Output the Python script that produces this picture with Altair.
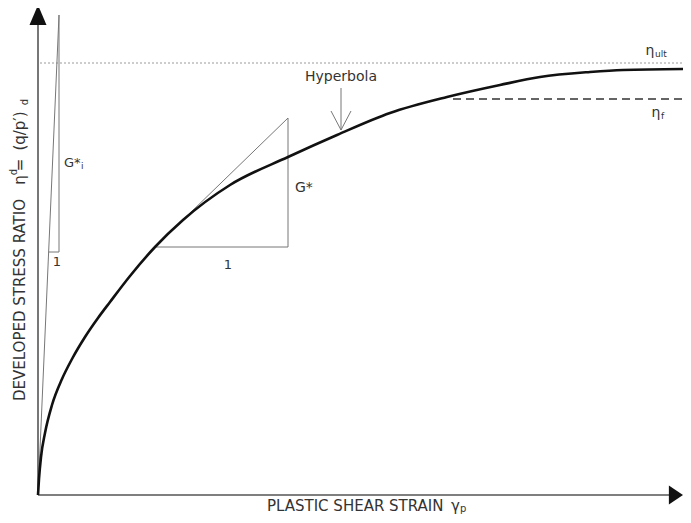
import altair as alt
import pandas as pd

# ---- data (schematic units: strain along x, stress ratio along y) ----
strain = [0, 1, 3, 7, 14, 24, 34, 47, 60, 72, 92, 117, 145, 192, 250, 299, 352, 409, 462, 502, 552, 585, 652]
ratio = [0, 16, 38, 62, 90, 116, 136, 158, 177, 193, 219, 248, 275, 310, 338, 360, 382, 398, 410, 418, 423, 425, 426]

eta_ult = 432          # ultimate stress ratio (asymptote)
eta_f = 396            # failure stress ratio
eta_f_start = 415

# initial tangent triangle (G*i)
gi_top = [21, 480]
gi_base_y = 243
gi_base_x0 = 10.6
# tangent triangle (G*)
g_x0, g_y0 = 117, 248
g_x1, g_y1 = 250, 377
# Hyperbola pointer
hyp_x, hyp_y_top, hyp_y_tip = 303, 407, 365

XD = [-30, 645]
YD = [-20, 487]
W, H = 675, 507


def X(f="x", **kw):
    return alt.X(f, type="quantitative", scale=alt.Scale(domain=XD, nice=False, zero=False), axis=None, **kw)


def Y(f="y", **kw):
    return alt.Y(f, type="quantitative", scale=alt.Scale(domain=YD, nice=False, zero=False), axis=None, **kw)


def segs(rows):
    return pd.DataFrame(rows, columns=["x", "y", "x2", "y2"])


def rule_layer(rows, color, width, dash=None):
    kw = dict(color=color, strokeWidth=width)
    if dash:
        kw["strokeDash"] = dash
    return alt.Chart(segs(rows)).mark_rule(**kw).encode(
        x=X(), y=Y(), x2="x2:Q", y2="y2:Q"
    )


axes = rule_layer([[0, 0, 0, 474], [0, 0, 634, 0]], "#555", 1.6)
thin = rule_layer(
    [
        [0, 0, gi_top[0], gi_top[1]],
        [gi_top[0], gi_base_y, gi_top[0], gi_top[1]],
        [gi_base_x0, gi_base_y, gi_top[0], gi_base_y],
        [g_x0, g_y0, g_x1, g_y1],
        [g_x0, g_y0, g_x1, g_y0],
        [g_x1, g_y0, g_x1, g_y1],
        [hyp_x, hyp_y_top, hyp_x, hyp_y_tip],
        [hyp_x - 10, hyp_y_tip + 19, hyp_x, hyp_y_tip],
        [hyp_x + 10, hyp_y_tip + 19, hyp_x, hyp_y_tip],
    ],
    "#777",
    1.0,
)
ult_line = rule_layer([[2, eta_ult, 652, eta_ult]], "#9a9a9a", 1.0, [2, 2])
f_line = rule_layer([[eta_f_start, eta_f, 652, eta_f]], "#333", 1.5, [8, 5])

curve = (
    alt.Chart(pd.DataFrame({"x": strain, "y": ratio}))
    .mark_line(color="#111", strokeWidth=2.6, interpolate="monotone")
    .encode(x=X(), y=Y())
)

arrow_up = (
    alt.Chart(pd.DataFrame({"x": [0], "y": [480]}))
    .mark_point(shape="M0,-1L0.85,1L-0.85,1Z", size=400, filled=True, color="#111", opacity=1, strokeWidth=0)
    .encode(x=X(), y=Y())
)
arrow_right = (
    alt.Chart(pd.DataFrame({"x": [638], "y": [0]}))
    .mark_point(shape="M-0.75,-1L0.75,0L-0.75,1Z", size=361, filled=True, color="#111", opacity=1, strokeWidth=0)
    .encode(x=X(), y=Y())
)

FONT = "DejaVu Sans"
TXT = "#333"


def text_layer(items, size, align="center", angle=0):
    df = pd.DataFrame(items, columns=["x", "y", "t"])
    return (
        alt.Chart(df)
        .mark_text(font=FONT, fontSize=size, color=TXT, align=align, baseline="middle", angle=angle)
        .encode(x=X(), y=Y(), text="t:N")
    )


texts = [
    text_layer([[303, 418, "Hyperbola"]], 14),
    text_layer([[190, 230, "1"], [19, 233, "1"]], 13),
    text_layer([[257, 307, "G*"]], 14, "left"),
    text_layer([[26, 332, "G*"]], 13, "left"),
    text_layer([[43, 329, "i"]], 9, "left"),
    text_layer([[612, 444, "η"], [618, 382, "η"]], 14),
    text_layer([[617, 441, "ult"], [623, 379, "f"]], 9, "left"),
    text_layer([[229, -11, "PLASTIC SHEAR STRAIN"]], 15, "left"),
    text_layer([[413, -11, "γ"]], 15, "left"),
    text_layer([[422, -14, "p"]], 10, "left"),
    text_layer([[-18, 195, "DEVELOPED STRESS RATIO"], [-18, 315, "η"], [-18, 330, "="], [-18, 364, "(q/p′)"]], 15, angle=270),
    text_layer([[-24, 323, "d"], [-13, 393, "d"]], 10, angle=270),
]

chart = alt.layer(ult_line, f_line, thin, axes, curve, arrow_up, arrow_right, *texts).properties(
    width=W, height=H, padding=0, autosize="none", background="white"
).configure_view(stroke=None)

chart.save("out.html", embed_options={"renderer": "svg", "actions": False})
